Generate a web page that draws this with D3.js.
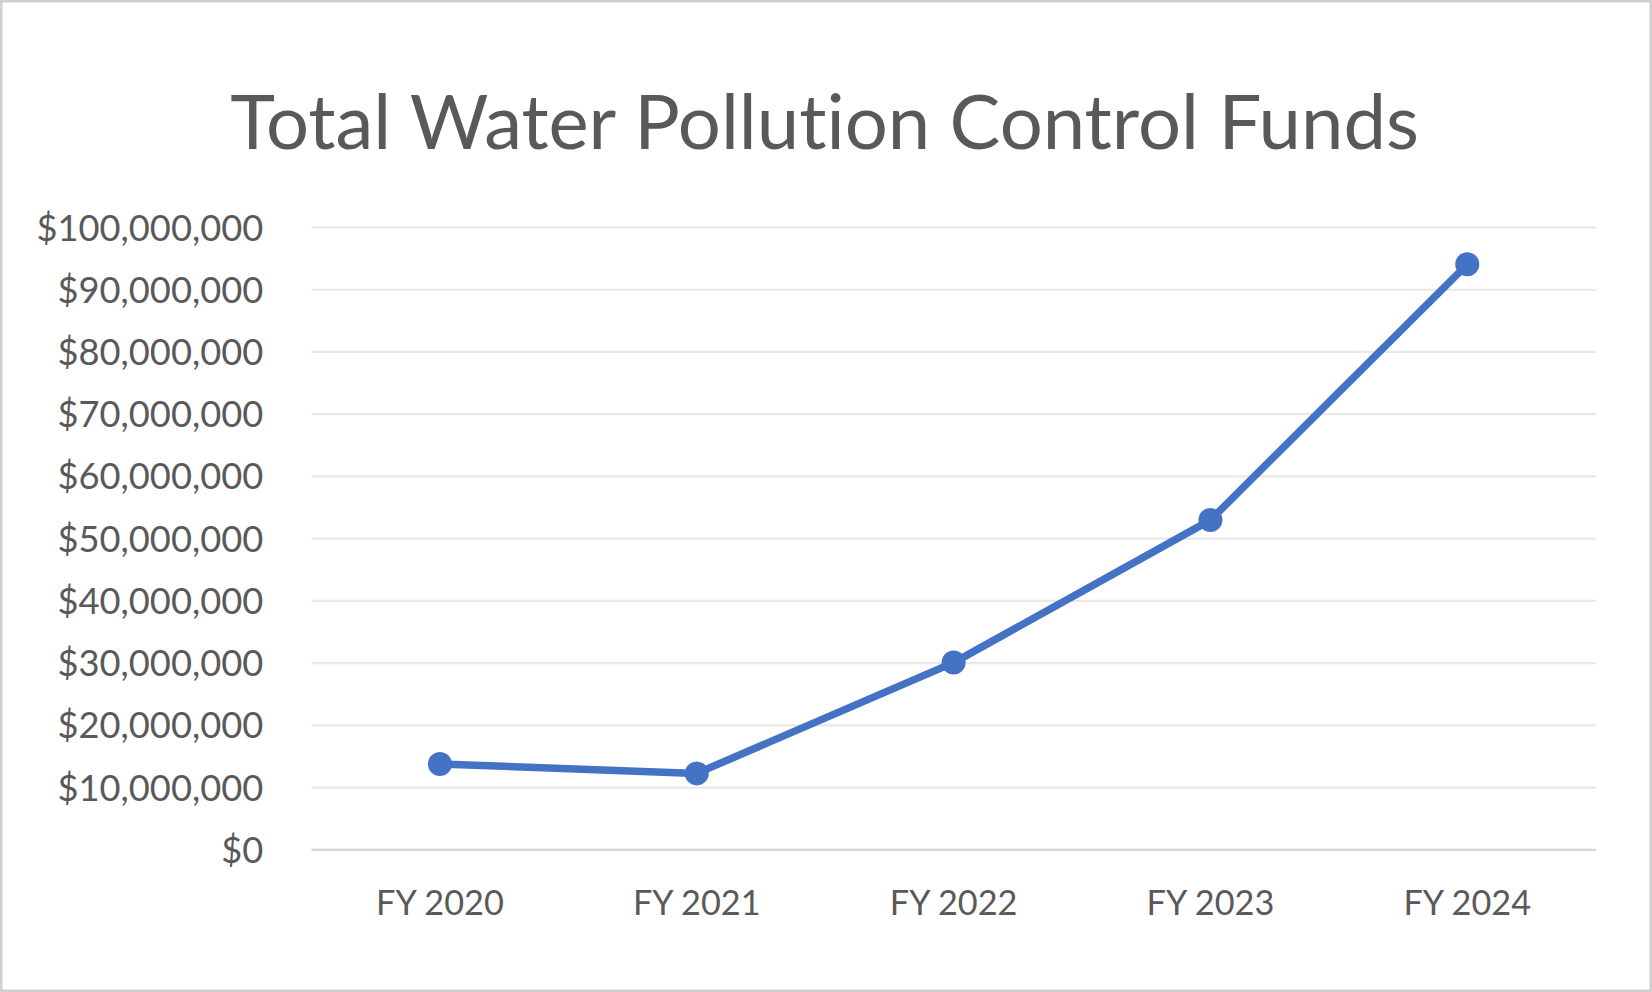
<!DOCTYPE html>
<html>
<head>
<meta charset="utf-8">
<script src="https://cdn.jsdelivr.net/npm/d3@7"></script>
<style>
  html, body { margin: 0; padding: 0; background: #fff; }
  svg { display: block; }
  text { font-family: Lato, "Open Sans", sans-serif; fill: #595959; font-variant-ligatures: none; font-feature-settings: "liga" 0, "clig" 0; }
</style>
</head>
<body>
<svg id="chart" width="1652" height="992"></svg>
<script>
const title = "Total Water Pollution Control Funds";
const categories = ["FY 2020", "FY 2021", "FY 2022", "FY 2023", "FY 2024"];
const values = [13700000, 12200000, 30000000, 52900000, 94000000];
const yTicks = [0, 10000000, 20000000, 30000000, 40000000, 50000000, 60000000, 70000000, 80000000, 90000000, 100000000];

const W = 1652, H = 992;
const margin = { left: 311.5, right: 1652 - 1595.7, top: 227, bottom: 992 - 849.3 };
const svg = d3.select("#chart");

// outer border
svg.append("rect").attr("x", 1.25).attr("y", 1.25).attr("width", W - 2.5).attr("height", H - 2.5)
  .attr("fill", "#fff").attr("stroke", "#d0d0d0").attr("stroke-width", 2.5);

const x = d3.scaleBand().domain(categories).range([margin.left, W - margin.right]);
const y = d3.scaleLinear().domain([0, 100000000]).range([H - margin.bottom, margin.top]);

function fitFont(sel, sample, target) {
  const t = svg.append("text").attr("font-size", 100).text(sample);
  const len = t.node().getComputedTextLength();
  t.remove();
  const fs = 100 * target / len;
  sel.attr("font-size", fs);
  return fs;
}

// title
const tt = svg.append("text").attr("x", 824.6).attr("y", 149.3).attr("text-anchor", "middle").text(title);
fitFont(tt, title, 1189);

// gridlines
const fmt = v => "$" + d3.format(",")(v);
const yAxis = d3.axisLeft(y).tickValues(yTicks).tickSize(-(W - margin.right - margin.left)).tickFormat(fmt).tickPadding(48);
const gy = svg.append("g").attr("transform", `translate(${margin.left},0)`).call(yAxis);
gy.select(".domain").remove();
gy.selectAll(".tick line").attr("stroke", d => d === 0 ? "#d6d6d6" : "#e8e8e8").attr("stroke-width", 2.2);
gy.selectAll(".tick text").attr("fill", "#595959").attr("font-family", "Lato, 'Open Sans', sans-serif")
  .attr("dy", "0.36em").attr("x", 263.3 - margin.left);
fitFont(gy.selectAll(".tick text"), "$100,000,000", 227);

// x axis
const xAxis = d3.axisBottom(x).tickSize(0).tickPadding(0);
const gx = svg.append("g").attr("transform", `translate(0,${H - margin.bottom})`).call(xAxis);
gx.select(".domain").remove();
gx.selectAll(".tick text").attr("fill", "#595959").attr("font-family", "Lato, 'Open Sans', sans-serif")
  .attr("y", 915 - (H - margin.bottom)).attr("dy", 0);
fitFont(gx.selectAll(".tick text"), "FY 2024", 127.7);

// line
const cx = d => x(d) + x.bandwidth() / 2;
const line = d3.line().x((d, i) => cx(categories[i])).y(d => y(d));
svg.append("path").datum(values).attr("d", line).attr("fill", "none")
  .attr("stroke", "#4472C4").attr("stroke-width", 7.5).attr("stroke-linejoin", "round").attr("stroke-linecap", "round");

svg.selectAll("circle.pt").data(values).enter().append("circle").attr("class", "pt")
  .attr("cx", (d, i) => cx(categories[i])).attr("cy", d => y(d)).attr("r", 12).attr("fill", "#4472C4");
</script>
</body>
</html>
